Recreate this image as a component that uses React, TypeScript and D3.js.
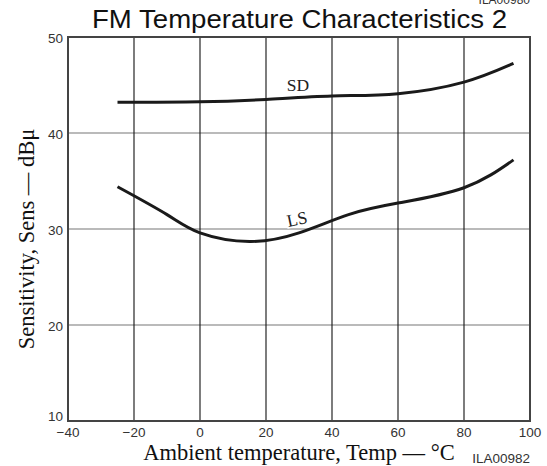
import React from 'react';
import * as d3 from 'd3';

const xTicks = [-40, -20, 0, 20, 40, 60, 80, 100];
const yTicks = [10, 20, 30, 40, 50];

const sdTemp = [-25, 0, 20, 40, 60, 80, 95];
const sdSens = [43.2, 43.25, 43.5, 43.85, 44.1, 45.3, 47.25];

const lsTemp = [-25, -10, 0, 15, 30, 45, 60, 80, 95];
const lsSens = [34.4, 31.5, 29.6, 28.7, 29.6, 31.5, 32.7, 34.3, 37.2];

const W = 547;
const H = 466;
const margin = { top: 37, right: 17, bottom: 45, left: 68 };

export default function App() {
  const x = d3.scaleLinear().domain([-40, 100]).range([margin.left, W - margin.right]);
  const y = d3.scaleLinear().domain([10, 50]).range([H - margin.bottom, margin.top]);

  const line = d3.line<[number, number]>()
    .x(d => x(d[0]))
    .y(d => y(d[1]))
    .curve(d3.curveNatural);

  const sdPts = sdTemp.map((t, i) => [t, sdSens[i]] as [number, number]);
  const lsPts = lsTemp.map((t, i) => [t, lsSens[i]] as [number, number]);

  const sans = '"Liberation Sans", Arial, sans-serif';
  const serif = '"Liberation Serif", "Times New Roman", serif';

  const lsX = 297;
  const lsY = 219;

  return (
    <svg width={W} height={H} style={{ position: 'absolute', left: 0, top: 0, background: '#fff' }}>
      <text x={530} y={4} textAnchor="end" fontFamily={sans} fontSize={12} fill="#333">ILA00980</text>
      <text x={92} y={28} fontFamily={sans} fontSize={25.5} fill="#111" textLength={415} lengthAdjust="spacingAndGlyphs">
        FM Temperature Characteristics 2
      </text>

      {/* horizontal grid */}
      {yTicks.map(t => (
        <line key={'h' + t} x1={x(-40)} x2={x(100)} y1={y(t)} y2={y(t)} stroke="#777" strokeWidth={1.2} />
      ))}
      {/* vertical grid */}
      {xTicks.map(t => (
        <line key={'v' + t} x1={x(t)} x2={x(t)} y1={y(10)} y2={y(50)} stroke="#111" strokeWidth={1.1} />
      ))}
      <rect x={x(-40)} y={y(50)} width={x(100) - x(-40)} height={y(10) - y(50)}
        fill="none" stroke="#444" strokeWidth={2} />

      {/* tick labels */}
      {yTicks.map(t => (
        <text key={'yl' + t} x={x(-40) - 5} y={t === 10 ? y(t) : y(t) + 6} textAnchor="end" fontFamily={sans} fontSize={13.5} fill="#333">
          {t}
        </text>
      ))}
      {xTicks.map(t => (
        <text key={'xl' + t} x={x(t)} y={y(10) + 16} textAnchor="middle" fontFamily={sans} fontSize={13.5} fill="#333">
          {t < 0 ? '\u2212' + Math.abs(t) : t}
        </text>
      ))}

      <path d={line(sdPts) || ''} fill="none" stroke="#1a1a1a" strokeWidth={3} />
      <path d={line(lsPts) || ''} fill="none" stroke="#1a1a1a" strokeWidth={3} />

      <text x={298} y={91} textAnchor="middle" fontFamily={serif} fontSize={17.5} fill="#222">SD</text>
      <text x={lsX} y={lsY + 6} textAnchor="middle" fontFamily={serif} fontSize={17.5} fill="#222"
        stroke="#fff" strokeWidth={3} paintOrder="stroke"
        transform={`rotate(-12, ${lsX}, ${lsY})`}>LS</text>

      <text x={299} y={460} textAnchor="middle" fontFamily={serif} fontSize={22.5} fill="#111">
        Ambient temperature, Temp — °C
      </text>
      <text x={530} y={463} textAnchor="end" fontFamily={sans} fontSize={13.5} fill="#333">ILA00982</text>
      <text transform={`translate(34, 239) rotate(-90)`} textAnchor="middle" fontFamily={serif} fontSize={22.5} fill="#111">
        Sensitivity, Sens — dBμ
      </text>
    </svg>
  );
}
